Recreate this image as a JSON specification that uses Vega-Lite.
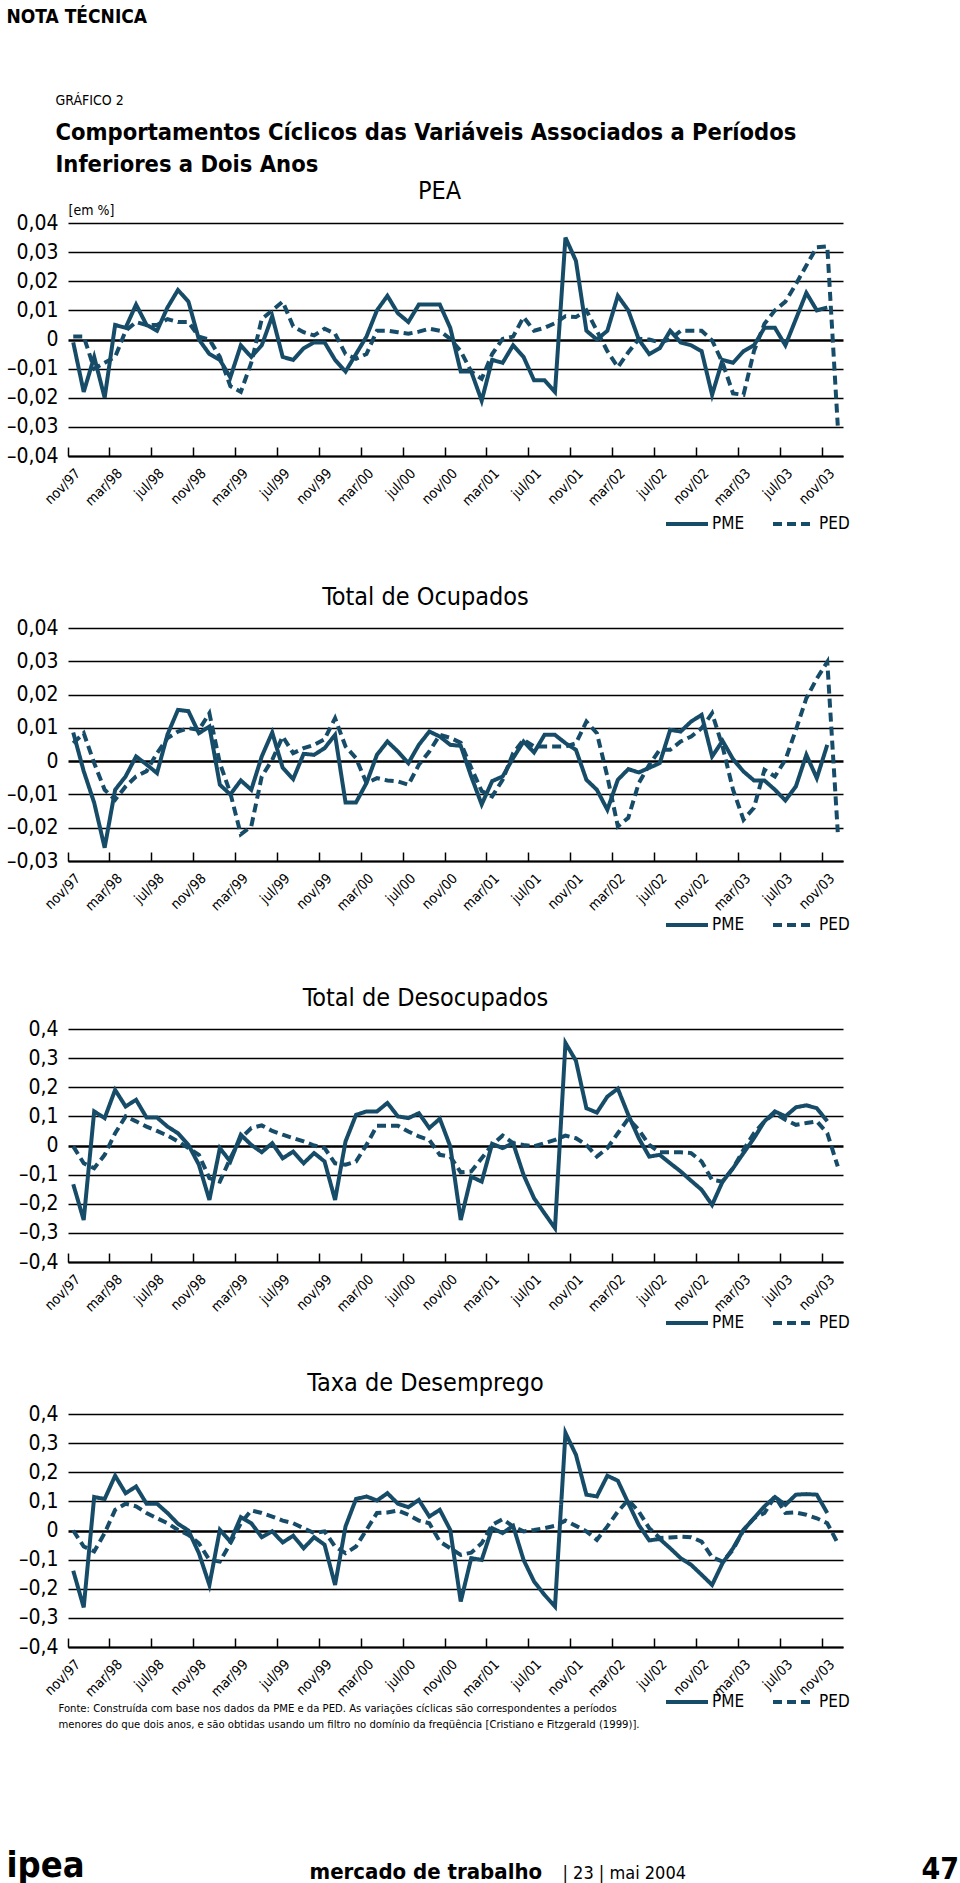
{
  "$schema": "https://vega.github.io/schema/vega-lite/v6.json",
  "padding": {"left": 6, "top": 7, "right": 0, "bottom": 0},
  "background": "#ffffff",
  "config": {
    "font": "DejaVu Sans Condensed, DejaVu Sans, sans-serif",
    "view": {"stroke": null},
    "title": {"color": "#000", "subtitleColor": "#000", "font": "DejaVu Sans Condensed, DejaVu Sans, sans-serif", "subtitleFont": "DejaVu Sans Condensed, DejaVu Sans, sans-serif"},
    "axis": {"labelColor": "#000", "titleColor": "#000", "gridColor": "#000", "gridOpacity": 1, "domainColor": "#000", "tickColor": "#000", "labelFont": "DejaVu Sans Condensed, DejaVu Sans, sans-serif", "titleFont": "DejaVu Sans Condensed, DejaVu Sans, sans-serif"},
    "legend": {"labelFont": "DejaVu Sans Condensed, DejaVu Sans, sans-serif", "labelColor": "#000"},
    "line": {"color": "#174c69", "strokeWidth": 4}
  },
  "datasets": {
    "pea": [
      {"mes":"nov/97","PME":-0.001,"PED":0.001},{"mes":"dez/97","PME":-0.018,"PED":0.001},{"mes":"jan/98","PME":-0.006,"PED":-0.010},{"mes":"fev/98","PME":-0.020,"PED":-0.008},
      {"mes":"mar/98","PME":0.005,"PED":-0.006},{"mes":"abr/98","PME":0.004,"PED":0.003},{"mes":"mai/98","PME":0.012,"PED":0.006},{"mes":"jun/98","PME":0.005,"PED":0.005},
      {"mes":"jul/98","PME":0.003,"PED":0.005},{"mes":"ago/98","PME":0.011,"PED":0.007},{"mes":"set/98","PME":0.017,"PED":0.006},{"mes":"out/98","PME":0.013,"PED":0.006},
      {"mes":"nov/98","PME":0.000,"PED":0.001},{"mes":"dez/98","PME":-0.005,"PED":0.000},{"mes":"jan/99","PME":-0.007,"PED":-0.006},{"mes":"fev/99","PME":-0.013,"PED":-0.016},
      {"mes":"mar/99","PME":-0.002,"PED":-0.018},{"mes":"abr/99","PME":-0.006,"PED":-0.008},{"mes":"mai/99","PME":-0.002,"PED":0.007},{"mes":"jun/99","PME":0.008,"PED":0.010},
      {"mes":"jul/99","PME":-0.006,"PED":0.013},{"mes":"ago/99","PME":-0.007,"PED":0.0045},{"mes":"set/99","PME":-0.003,"PED":0.0025},{"mes":"out/99","PME":-0.001,"PED":0.0014},
      {"mes":"nov/99","PME":-0.001,"PED":0.0037},{"mes":"dez/99","PME":-0.007,"PED":0.002},{"mes":"jan/00","PME":-0.011,"PED":-0.005},{"mes":"fev/00","PME":-0.005,"PED":-0.0066},
      {"mes":"mar/00","PME":0.001,"PED":-0.005},{"mes":"abr/00","PME":0.010,"PED":0.003},{"mes":"mai/00","PME":0.015,"PED":0.003},{"mes":"jun/00","PME":0.009,"PED":0.0025},
      {"mes":"jul/00","PME":0.006,"PED":0.002},{"mes":"ago/00","PME":0.012,"PED":0.0027},{"mes":"set/00","PME":0.012,"PED":0.0037},{"mes":"out/00","PME":0.012,"PED":0.003},
      {"mes":"nov/00","PME":0.004,"PED":0.0002},{"mes":"dez/00","PME":-0.011,"PED":-0.004},{"mes":"jan/01","PME":-0.011,"PED":-0.011},{"mes":"fev/01","PME":-0.021,"PED":-0.0135},
      {"mes":"mar/01","PME":-0.007,"PED":-0.005},{"mes":"abr/01","PME":-0.008,"PED":0.0002},{"mes":"mai/01","PME":-0.002,"PED":0.001},{"mes":"jun/01","PME":-0.006,"PED":0.0077},
      {"mes":"jul/01","PME":-0.014,"PED":0.003},{"mes":"ago/01","PME":-0.014,"PED":0.004},{"mes":"set/01","PME":-0.018,"PED":0.0056},{"mes":"out/01","PME":0.035,"PED":0.008},
      {"mes":"nov/01","PME":0.027,"PED":0.0077},{"mes":"dez/01","PME":0.003,"PED":0.010},{"mes":"jan/02","PME":0.000,"PED":0.003},{"mes":"fev/02","PME":0.003,"PED":-0.004},
      {"mes":"mar/02","PME":0.015,"PED":-0.0095},{"mes":"abr/02","PME":0.010,"PED":-0.0044},{"mes":"mai/02","PME":0.000,"PED":0.0002},{"mes":"jun/02","PME":-0.005,"PED":0.000},
      {"mes":"jul/02","PME":-0.003,"PED":-0.001},{"mes":"ago/02","PME":0.003,"PED":0.000},{"mes":"set/02","PME":-0.001,"PED":0.003},{"mes":"out/02","PME":-0.002,"PED":0.003},
      {"mes":"nov/02","PME":-0.004,"PED":0.003},{"mes":"dez/02","PME":-0.019,"PED":-0.0003},{"mes":"jan/03","PME":-0.007,"PED":-0.008},{"mes":"fev/03","PME":-0.008,"PED":-0.0185},
      {"mes":"mar/03","PME":-0.004,"PED":-0.019},{"mes":"abr/03","PME":-0.002,"PED":-0.004},{"mes":"mai/03","PME":0.004,"PED":0.0054},{"mes":"jun/03","PME":0.004,"PED":0.010},
      {"mes":"jul/03","PME":-0.002,"PED":0.013},{"mes":"ago/03","PME":0.007,"PED":0.019},{"mes":"set/03","PME":0.016,"PED":0.0254},{"mes":"out/03","PME":0.010,"PED":0.0317},
      {"mes":"nov/03","PME":0.011,"PED":0.032},{"mes":"dez/03","PME":null,"PED":-0.0296}
    ],
    "ocup": [
      {"mes":"nov/97","PME":0.0086,"PED":0.0054},{"mes":"dez/97","PME":-0.003,"PED":0.0084},{"mes":"jan/98","PME":-0.0125,"PED":-0.0006},{"mes":"fev/98","PME":-0.026,"PED":-0.0086},
      {"mes":"mar/98","PME":-0.0086,"PED":-0.0116},{"mes":"abr/98","PME":-0.0046,"PED":-0.0076},{"mes":"mai/98","PME":0.0014,"PED":-0.0046},{"mes":"jun/98","PME":-0.001,"PED":-0.003},
      {"mes":"jul/98","PME":-0.0036,"PED":0.0024},{"mes":"ago/98","PME":0.008,"PED":0.0069},{"mes":"set/98","PME":0.0154,"PED":0.0089},{"mes":"out/98","PME":0.015,"PED":0.0099},
      {"mes":"nov/98","PME":0.0084,"PED":0.0094},{"mes":"dez/98","PME":0.0104,"PED":0.0144},{"mes":"jan/99","PME":-0.0071,"PED":-0.0006},{"mes":"fev/99","PME":-0.010,"PED":-0.0096},
      {"mes":"mar/99","PME":-0.0058,"PED":-0.022},{"mes":"abr/99","PME":-0.0086,"PED":-0.0196},{"mes":"mai/99","PME":0.0014,"PED":-0.0046},{"mes":"jun/99","PME":0.0086,"PED":0.0004},
      {"mes":"jul/99","PME":-0.002,"PED":0.0074},{"mes":"ago/99","PME":-0.0054,"PED":0.0024},{"mes":"set/99","PME":0.0022,"PED":0.0039},{"mes":"out/99","PME":0.0019,"PED":0.0049},
      {"mes":"nov/99","PME":0.0039,"PED":0.0066},{"mes":"dez/99","PME":0.0079,"PED":0.0129},{"mes":"jan/00","PME":-0.0124,"PED":0.0044},{"mes":"fev/00","PME":-0.0124,"PED":0.0009},
      {"mes":"mar/00","PME":-0.0066,"PED":-0.0066},{"mes":"abr/00","PME":0.0019,"PED":-0.0051},{"mes":"mai/00","PME":0.0059,"PED":-0.0058},{"mes":"jun/00","PME":0.0029,"PED":-0.0061},
      {"mes":"jul/00","PME":-0.0006,"PED":-0.0071},{"mes":"ago/00","PME":0.0049,"PED":-0.0011},{"mes":"set/00","PME":0.0089,"PED":0.0029},{"mes":"out/00","PME":0.0074,"PED":0.0079},
      {"mes":"nov/00","PME":0.0049,"PED":0.007},{"mes":"dez/00","PME":0.0046,"PED":0.0055},{"mes":"jan/01","PME":-0.0046,"PED":-0.002},{"mes":"fev/01","PME":-0.013,"PED":-0.009},
      {"mes":"mar/01","PME":-0.006,"PED":-0.0106},{"mes":"abr/01","PME":-0.0046,"PED":-0.0056},{"mes":"mai/01","PME":0.0009,"PED":0.0024},{"mes":"jun/01","PME":0.0059,"PED":0.0064},
      {"mes":"jul/01","PME":0.0026,"PED":0.0044},{"mes":"ago/01","PME":0.0079,"PED":0.0044},{"mes":"set/01","PME":0.0079,"PED":0.0044},{"mes":"out/01","PME":0.0054,"PED":0.0044},
      {"mes":"nov/01","PME":0.0034,"PED":0.0054},{"mes":"dez/01","PME":-0.0056,"PED":0.0119},{"mes":"jan/02","PME":-0.0086,"PED":0.0084},{"mes":"fev/02","PME":-0.0146,"PED":-0.0046},
      {"mes":"mar/02","PME":-0.0056,"PED":-0.0196},{"mes":"abr/02","PME":-0.0024,"PED":-0.017},{"mes":"mai/02","PME":-0.0034,"PED":-0.0066},{"mes":"jun/02","PME":-0.002,"PED":-0.0011},
      {"mes":"jul/02","PME":-0.0006,"PED":0.0034},{"mes":"ago/02","PME":0.0094,"PED":0.0034},{"mes":"set/02","PME":0.0089,"PED":0.0059},{"mes":"out/02","PME":0.0119,"PED":0.0074},
      {"mes":"nov/02","PME":0.0139,"PED":0.0099},{"mes":"dez/02","PME":0.0014,"PED":0.0144},{"mes":"jan/03","PME":0.0061,"PED":0.0044},{"mes":"fev/03","PME":0.0006,"PED":-0.0086},
      {"mes":"mar/03","PME":-0.0031,"PED":-0.0176},{"mes":"abr/03","PME":-0.0058,"PED":-0.014},{"mes":"mai/03","PME":-0.0058,"PED":-0.0026},{"mes":"jun/03","PME":-0.0086,"PED":-0.0046},
      {"mes":"jul/03","PME":-0.0118,"PED":0.0004},{"mes":"ago/03","PME":-0.0076,"PED":0.0094},{"mes":"set/03","PME":0.0019,"PED":0.0189},{"mes":"out/03","PME":-0.0051,"PED":0.0248},
      {"mes":"nov/03","PME":0.0049,"PED":0.0298},{"mes":"dez/03","PME":null,"PED":-0.0213}
    ],
    "desoc": [
      {"mes":"nov/97","PME":-0.133,"PED":-0.003},{"mes":"dez/97","PME":-0.256,"PED":-0.061},{"mes":"jan/98","PME":0.117,"PED":-0.078},{"mes":"fev/98","PME":0.094,"PED":-0.032},
      {"mes":"mar/98","PME":0.191,"PED":0.042},{"mes":"abr/98","PME":0.134,"PED":0.100},{"mes":"mai/98","PME":0.157,"PED":0.083},{"mes":"jun/98","PME":0.096,"PED":0.065},
      {"mes":"jul/98","PME":0.096,"PED":0.050},{"mes":"ago/98","PME":0.065,"PED":0.034},{"mes":"set/98","PME":0.042,"PED":0.014},{"mes":"out/98","PME":0.002,"PED":-0.009},
      {"mes":"nov/98","PME":-0.066,"PED":-0.032},{"mes":"dez/98","PME":-0.187,"PED":-0.112},{"mes":"jan/99","PME":-0.009,"PED":-0.124},{"mes":"fev/99","PME":-0.055,"PED":-0.044},
      {"mes":"mar/99","PME":0.037,"PED":0.025},{"mes":"abr/99","PME":0.002,"PED":0.060},{"mes":"mai/99","PME":-0.023,"PED":0.069},{"mes":"jun/99","PME":0.008,"PED":0.050},
      {"mes":"jul/99","PME":-0.044,"PED":0.037},{"mes":"ago/99","PME":-0.021,"PED":0.025},{"mes":"set/99","PME":-0.061,"PED":0.014},{"mes":"out/99","PME":-0.026,"PED":0.000},
      {"mes":"nov/99","PME":-0.055,"PED":-0.009},{"mes":"dez/99","PME":-0.187,"PED":-0.061},{"mes":"jan/00","PME":0.014,"PED":-0.066},{"mes":"fev/00","PME":0.105,"PED":-0.055},
      {"mes":"mar/00","PME":0.117,"PED":0.002},{"mes":"abr/00","PME":0.117,"PED":0.068},{"mes":"mai/00","PME":0.146,"PED":0.068},{"mes":"jun/00","PME":0.100,"PED":0.068},
      {"mes":"jul/00","PME":0.094,"PED":0.048},{"mes":"ago/00","PME":0.111,"PED":0.031},{"mes":"set/00","PME":0.060,"PED":0.019},{"mes":"out/00","PME":0.092,"PED":-0.032},
      {"mes":"nov/00","PME":-0.003,"PED":-0.038},{"mes":"dez/00","PME":-0.256,"PED":-0.092},{"mes":"jan/01","PME":-0.107,"PED":-0.089},{"mes":"fev/01","PME":-0.124,"PED":-0.044},
      {"mes":"mar/01","PME":0.006,"PED":0.002},{"mes":"abr/01","PME":-0.009,"PED":0.034},{"mes":"mai/01","PME":0.008,"PED":0.008},{"mes":"jun/01","PME":-0.101,"PED":0.002},
      {"mes":"jul/01","PME":-0.181,"PED":-0.003},{"mes":"ago/01","PME":-0.233,"PED":0.008},{"mes":"set/01","PME":-0.284,"PED":0.019},{"mes":"out/01","PME":0.352,"PED":0.034},
      {"mes":"nov/01","PME":0.291,"PED":0.025},{"mes":"dez/01","PME":0.128,"PED":0.002},{"mes":"jan/02","PME":0.113,"PED":-0.038},{"mes":"fev/02","PME":0.168,"PED":-0.009},
      {"mes":"mar/02","PME":0.195,"PED":0.042},{"mes":"abr/02","PME":0.105,"PED":0.092},{"mes":"mai/02","PME":0.025,"PED":0.054},{"mes":"jun/02","PME":-0.038,"PED":0.002},
      {"mes":"jul/02","PME":-0.032,"PED":-0.023},{"mes":"ago/02","PME":-0.061,"PED":-0.023},{"mes":"set/02","PME":-0.089,"PED":-0.023},{"mes":"out/02","PME":-0.121,"PED":-0.026},
      {"mes":"nov/02","PME":-0.152,"PED":-0.055},{"mes":"dez/02","PME":-0.204,"PED":-0.118},{"mes":"jan/03","PME":-0.124,"PED":-0.124},{"mes":"fev/03","PME":-0.078,"PED":-0.078},
      {"mes":"mar/03","PME":-0.026,"PED":-0.015},{"mes":"abr/03","PME":0.025,"PED":0.042},{"mes":"mai/03","PME":0.083,"PED":0.083},{"mes":"jun/03","PME":0.117,"PED":0.111},
      {"mes":"jul/03","PME":0.100,"PED":0.088},{"mes":"ago/03","PME":0.131,"PED":0.071},{"mes":"set/03","PME":0.138,"PED":0.077},{"mes":"out/03","PME":0.128,"PED":0.083},
      {"mes":"nov/03","PME":0.083,"PED":0.042},{"mes":"dez/03","PME":null,"PED":-0.072}
    ],
    "taxa": [
      {"mes":"nov/97","PME":-0.138,"PED":0.000},{"mes":"dez/97","PME":-0.264,"PED":-0.055},{"mes":"jan/98","PME":0.115,"PED":-0.072},{"mes":"fev/98","PME":0.108,"PED":-0.009},
      {"mes":"mar/98","PME":0.188,"PED":0.071},{"mes":"abr/98","PME":0.128,"PED":0.092},{"mes":"mai/98","PME":0.151,"PED":0.083},{"mes":"jun/98","PME":0.092,"PED":0.060},
      {"mes":"jul/98","PME":0.092,"PED":0.042},{"mes":"ago/98","PME":0.060,"PED":0.025},{"mes":"set/98","PME":0.023,"PED":0.002},{"mes":"out/98","PME":0.000,"PED":-0.015},
      {"mes":"nov/98","PME":-0.078,"PED":-0.044},{"mes":"dez/98","PME":-0.187,"PED":-0.101},{"mes":"jan/99","PME":0.002,"PED":-0.107},{"mes":"fev/99","PME":-0.038,"PED":-0.044},
      {"mes":"mar/99","PME":0.046,"PED":0.025},{"mes":"abr/99","PME":0.025,"PED":0.069},{"mes":"mai/99","PME":-0.023,"PED":0.060},{"mes":"jun/99","PME":-0.003,"PED":0.048},
      {"mes":"jul/99","PME":-0.041,"PED":0.034},{"mes":"ago/99","PME":-0.018,"PED":0.025},{"mes":"set/99","PME":-0.061,"PED":0.008},{"mes":"out/99","PME":-0.023,"PED":-0.009},
      {"mes":"nov/99","PME":-0.049,"PED":-0.003},{"mes":"dez/99","PME":-0.187,"PED":-0.055},{"mes":"jan/00","PME":0.014,"PED":-0.078},{"mes":"fev/00","PME":0.108,"PED":-0.055},
      {"mes":"mar/00","PME":0.117,"PED":0.002},{"mes":"abr/00","PME":0.103,"PED":0.060},{"mes":"mai/00","PME":0.128,"PED":0.062},{"mes":"jun/00","PME":0.092,"PED":0.069},
      {"mes":"jul/00","PME":0.080,"PED":0.054},{"mes":"ago/00","PME":0.105,"PED":0.034},{"mes":"set/00","PME":0.048,"PED":0.025},{"mes":"out/00","PME":0.071,"PED":-0.038},
      {"mes":"nov/00","PME":0.002,"PED":-0.061},{"mes":"dez/00","PME":-0.244,"PED":-0.084},{"mes":"jan/01","PME":-0.095,"PED":-0.076},{"mes":"fev/01","PME":-0.101,"PED":-0.044},
      {"mes":"mar/01","PME":0.008,"PED":0.019},{"mes":"abr/01","PME":-0.009,"PED":0.039},{"mes":"mai/01","PME":0.016,"PED":0.014},{"mes":"jun/01","PME":-0.101,"PED":-0.003},
      {"mes":"jul/01","PME":-0.175,"PED":0.002},{"mes":"ago/01","PME":-0.221,"PED":0.008},{"mes":"set/01","PME":-0.261,"PED":0.016},{"mes":"out/01","PME":0.335,"PED":0.034},
      {"mes":"nov/01","PME":0.260,"PED":0.016},{"mes":"dez/01","PME":0.123,"PED":-0.003},{"mes":"jan/02","PME":0.117,"PED":-0.032},{"mes":"fev/02","PME":0.188,"PED":0.014},
      {"mes":"mar/02","PME":0.171,"PED":0.065},{"mes":"abr/02","PME":0.094,"PED":0.105},{"mes":"mai/02","PME":0.019,"PED":0.065},{"mes":"jun/02","PME":-0.034,"PED":0.008},
      {"mes":"jul/02","PME":-0.029,"PED":-0.026},{"mes":"ago/02","PME":-0.061,"PED":-0.024},{"mes":"set/02","PME":-0.095,"PED":-0.021},{"mes":"out/02","PME":-0.118,"PED":-0.023},
      {"mes":"nov/02","PME":-0.152,"PED":-0.038},{"mes":"dez/02","PME":-0.187,"PED":-0.092},{"mes":"jan/03","PME":-0.112,"PED":-0.107},{"mes":"fev/03","PME":-0.061,"PED":-0.066},
      {"mes":"mar/03","PME":0.002,"PED":0.002},{"mes":"abr/03","PME":0.042,"PED":0.042},{"mes":"mai/03","PME":0.083,"PED":0.060},{"mes":"jun/03","PME":0.115,"PED":0.117},
      {"mes":"jul/03","PME":0.088,"PED":0.060},{"mes":"ago/03","PME":0.123,"PED":0.062},{"mes":"set/03","PME":0.125,"PED":0.054},{"mes":"out/03","PME":0.123,"PED":0.042},
      {"mes":"nov/03","PME":0.060,"PED":0.025},{"mes":"dez/03","PME":null,"PED":-0.044}
    ]
  },
  "title": {"text": "47", "orient": "bottom", "anchor": "end", "frame": "bounds", "fontSize": 30, "fontWeight": "bold", "baseline": "alphabetic", "offset": -5, "dx": 109},
  "vconcat": [{
    "title": {"text": "| 23 | mai 2004", "orient": "bottom", "anchor": "start", "frame": "bounds", "fontSize": 18, "fontWeight": "normal", "baseline": "alphabetic", "offset": -5, "dx": 556},
    "vconcat": [{
      "title": {"text": "mercado de trabalho", "orient": "bottom", "anchor": "start", "frame": "bounds", "fontSize": 22, "fontWeight": "bold", "baseline": "alphabetic", "offset": -5, "dx": 303},
      "vconcat": [{
        "title": {"text": "ipea", "orient": "bottom", "anchor": "start", "frame": "bounds", "fontSize": 36, "fontWeight": "bold", "baseline": "alphabetic", "offset": 148, "dx": 0},
        "vconcat": [{
          "title": {"text": "NOTA TÉCNICA", "anchor": "start", "frame": "bounds", "fontSize": 19, "fontWeight": "bold", "baseline": "alphabetic", "offset": 52, "dx": 0},
          "vconcat": [{
            "title": {"text": "GRÁFICO 2", "subtitle": ["Comportamentos Cíclicos das Variáveis Associados a Períodos", "Inferiores a Dois Anos"], "anchor": "start", "frame": "bounds", "fontSize": 14, "fontWeight": "normal", "subtitleFontSize": 23.5, "subtitleFontWeight": "bold", "subtitleLineHeight": 32, "subtitlePadding": 21, "baseline": "alphabetic", "offset": -8, "dx": 49},
            "resolve": {"scale": {"strokeDash": "independent"}, "legend": {"strokeDash": "independent"}},
            "spacing": 40,
            "vconcat": [
              {
                "resolve": {"scale": {"strokeDash": "independent"}, "legend": {"strokeDash": "independent"}},
                "spacing": 53,
                "vconcat": [
                  {
                    "title": {"text": "PEA", "fontSize": 25, "fontWeight": "normal", "anchor": "middle", "frame": "group", "baseline": "alphabetic", "offset": -21, "dx": -16},
                    "data": {"name": "pea"},
                    "transform": [{"fold": ["PME", "PED"], "as": ["serie", "valor"]}],
                    "width": 775, "height": 233,
                    "mark": {"type": "line", "strokeWidth": 4, "color": "#174c69"},
                    "encoding": {
                      "x": {"field": "mes", "type": "ordinal", "sort": null, "bandPosition": 0.5, "scale": {"type": "band", "paddingInner": 0, "paddingOuter": 0},
                        "axis": {"title": null, "values": ["nov/97","mar/98","jul/98","nov/98","mar/99","jul/99","nov/99","mar/00","jul/00","nov/00","mar/01","jul/01","nov/01","mar/02","jul/02","nov/02","mar/03","jul/03","nov/03"], "bandPosition": 0, "labelOffset": 5.2, "labelAngle": -45, "labelAlign": "right", "labelBaseline": "middle", "labelFontSize": 14, "labelPadding": 24, "labelOverlap": false, "tickSize": -9, "tickWidth": 1.5, "domainWidth": 2, "grid": false}},
                      "y": {"field": "valor", "type": "quantitative", "scale": {"domain": [-0.04, 0.04], "nice": false, "zero": false},
                        "axis": {"title": "[em %]", "titleAngle": 0, "titleAlign": "left", "titleBaseline": "alphabetic", "titleX": 0, "titleY": -9, "titleFontSize": 14, "titleFontWeight": "normal", "values": [-0.04, -0.03, -0.02, -0.01, 0, 0.01, 0.02, 0.03, 0.04], "grid": true, "gridWidth": {"condition": {"test": "datum.value === 0", "value": 2.5}, "value": 1.5}, "domain": false, "ticks": false, "labelPadding": 10, "labelFontSize": 21, "labelExpr": "datum.value == 0 ? '0' : (datum.value < 0 ? '–' : '') + replace(format(abs(datum.value), '.2f'), '.', ',')"}},
                      "strokeDash": {"field": "serie", "type": "nominal", "scale": {"domain": ["PME", "PED"], "range": [[1, 0], [9, 5]]},
                        "legend": {"title": null, "orient": "none", "legendX": 596, "legendY": 278, "direction": "horizontal", "symbolType": "stroke", "symbolSize": 1764, "symbolStrokeWidth": 4, "symbolStrokeColor": "#174c69", "labelFontSize": 17, "labelOffset": 2, "columnPadding": 20}}
                    }
                  },
                  {
                    "title": {"text": "Total de Ocupados", "fontSize": 25, "fontWeight": "normal", "anchor": "middle", "frame": "group", "baseline": "alphabetic", "offset": -13, "dx": -30},
                    "data": {"name": "ocup"},
                    "transform": [{"fold": ["PME", "PED"], "as": ["serie", "valor"]}],
                    "width": 775, "height": 233,
                    "mark": {"type": "line", "strokeWidth": 4, "color": "#174c69"},
                    "encoding": {
                      "x": {"field": "mes", "type": "ordinal", "sort": null, "bandPosition": 0.5, "scale": {"type": "band", "paddingInner": 0, "paddingOuter": 0},
                        "axis": {"title": null, "values": ["nov/97","mar/98","jul/98","nov/98","mar/99","jul/99","nov/99","mar/00","jul/00","nov/00","mar/01","jul/01","nov/01","mar/02","jul/02","nov/02","mar/03","jul/03","nov/03"], "bandPosition": 0, "labelOffset": 5.2, "labelAngle": -45, "labelAlign": "right", "labelBaseline": "middle", "labelFontSize": 14, "labelPadding": 24, "labelOverlap": false, "tickSize": -9, "tickWidth": 1.5, "domainWidth": 2, "grid": false}},
                      "y": {"field": "valor", "type": "quantitative", "scale": {"domain": [-0.03, 0.04], "nice": false, "zero": false},
                        "axis": {"title": null, "values": [-0.03, -0.02, -0.01, 0, 0.01, 0.02, 0.03, 0.04], "grid": true, "gridWidth": {"condition": {"test": "datum.value === 0", "value": 2.5}, "value": 1.5}, "domain": false, "ticks": false, "labelPadding": 10, "labelFontSize": 21, "labelExpr": "datum.value == 0 ? '0' : (datum.value < 0 ? '–' : '') + replace(format(abs(datum.value), '.2f'), '.', ',')"}},
                      "strokeDash": {"field": "serie", "type": "nominal", "scale": {"domain": ["PME", "PED"], "range": [[1, 0], [9, 5]]},
                        "legend": {"title": null, "orient": "none", "legendX": 596, "legendY": 274, "direction": "horizontal", "symbolType": "stroke", "symbolSize": 1764, "symbolStrokeWidth": 4, "symbolStrokeColor": "#174c69", "labelFontSize": 17, "labelOffset": 2, "columnPadding": 20}}
                    }
                  },
                  {
                    "title": {"text": "Total de Desocupados", "fontSize": 25, "fontWeight": "normal", "anchor": "middle", "frame": "group", "baseline": "alphabetic", "offset": -13, "dx": -30},
                    "data": {"name": "desoc"},
                    "transform": [{"fold": ["PME", "PED"], "as": ["serie", "valor"]}],
                    "width": 775, "height": 233,
                    "mark": {"type": "line", "strokeWidth": 4, "color": "#174c69"},
                    "encoding": {
                      "x": {"field": "mes", "type": "ordinal", "sort": null, "bandPosition": 0.5, "scale": {"type": "band", "paddingInner": 0, "paddingOuter": 0},
                        "axis": {"title": null, "values": ["nov/97","mar/98","jul/98","nov/98","mar/99","jul/99","nov/99","mar/00","jul/00","nov/00","mar/01","jul/01","nov/01","mar/02","jul/02","nov/02","mar/03","jul/03","nov/03"], "bandPosition": 0, "labelOffset": 5.2, "labelAngle": -45, "labelAlign": "right", "labelBaseline": "middle", "labelFontSize": 14, "labelPadding": 24, "labelOverlap": false, "tickSize": -9, "tickWidth": 1.5, "domainWidth": 2, "grid": false}},
                      "y": {"field": "valor", "type": "quantitative", "scale": {"domain": [-0.4, 0.4], "nice": false, "zero": false},
                        "axis": {"title": null, "values": [-0.4, -0.3, -0.2, -0.1, 0, 0.1, 0.2, 0.3, 0.4], "grid": true, "gridWidth": {"condition": {"test": "datum.value === 0", "value": 2.5}, "value": 1.5}, "domain": false, "ticks": false, "labelPadding": 10, "labelFontSize": 21, "labelExpr": "datum.value == 0 ? '0' : (datum.value < 0 ? '–' : '') + replace(format(abs(datum.value), '.1f'), '.', ',')"}},
                      "strokeDash": {"field": "serie", "type": "nominal", "scale": {"domain": ["PME", "PED"], "range": [[1, 0], [9, 5]]},
                        "legend": {"title": null, "orient": "none", "legendX": 596, "legendY": 271, "direction": "horizontal", "symbolType": "stroke", "symbolSize": 1764, "symbolStrokeWidth": 4, "symbolStrokeColor": "#174c69", "labelFontSize": 17, "labelOffset": 2, "columnPadding": 20}}
                    }
                  }
                ]
              },
              {
                "title": {"text": "Taxa de Desemprego", "fontSize": 25, "fontWeight": "normal", "anchor": "middle", "frame": "group", "baseline": "alphabetic", "offset": -13, "dx": -30},
                "data": {"name": "taxa"},
                "transform": [{"fold": ["PME", "PED"], "as": ["serie", "valor"]}],
                "width": 775, "height": 233,
                "mark": {"type": "line", "strokeWidth": 4, "color": "#174c69"},
                "encoding": {
                  "x": {"field": "mes", "type": "ordinal", "sort": null, "bandPosition": 0.5, "scale": {"type": "band", "paddingInner": 0, "paddingOuter": 0},
                    "axis": {"title": ["Fonte: Construída com base nos dados da PME e da PED. As variações cíclicas são correspondentes a períodos", "menores do que dois anos, e são obtidas usando um filtro no domínio da freqüência [Cristiano e Fitzgerald (1999)]."], "titleX": -10, "titleY": 55, "titleAlign": "left", "titleAnchor": "start", "titleBaseline": "top", "titleAngle": 0, "titleFontSize": 11.2, "titleFontWeight": "normal", "titleLineHeight": 16, "values": ["nov/97","mar/98","jul/98","nov/98","mar/99","jul/99","nov/99","mar/00","jul/00","nov/00","mar/01","jul/01","nov/01","mar/02","jul/02","nov/02","mar/03","jul/03","nov/03"], "bandPosition": 0, "labelOffset": 5.2, "labelAngle": -45, "labelAlign": "right", "labelBaseline": "middle", "labelFontSize": 14, "labelPadding": 24, "labelOverlap": false, "tickSize": -9, "tickWidth": 1.5, "domainWidth": 2, "grid": false}},
                  "y": {"field": "valor", "type": "quantitative", "scale": {"domain": [-0.4, 0.4], "nice": false, "zero": false},
                    "axis": {"title": null, "values": [-0.4, -0.3, -0.2, -0.1, 0, 0.1, 0.2, 0.3, 0.4], "grid": true, "gridWidth": {"condition": {"test": "datum.value === 0", "value": 2.5}, "value": 1.5}, "domain": false, "ticks": false, "labelPadding": 10, "labelFontSize": 21, "labelExpr": "datum.value == 0 ? '0' : (datum.value < 0 ? '–' : '') + replace(format(abs(datum.value), '.1f'), '.', ',')"}},
                  "strokeDash": {"field": "serie", "type": "nominal", "scale": {"domain": ["PME", "PED"], "range": [[1, 0], [9, 5]]},
                    "legend": {"title": null, "orient": "none", "legendX": 596, "legendY": 265, "direction": "horizontal", "symbolType": "stroke", "symbolSize": 1764, "symbolStrokeWidth": 4, "symbolStrokeColor": "#174c69", "labelFontSize": 17, "labelOffset": 2, "columnPadding": 20}}
                }
              }
            ]
          }]
        }]
      }]
    }]
  }]
}
